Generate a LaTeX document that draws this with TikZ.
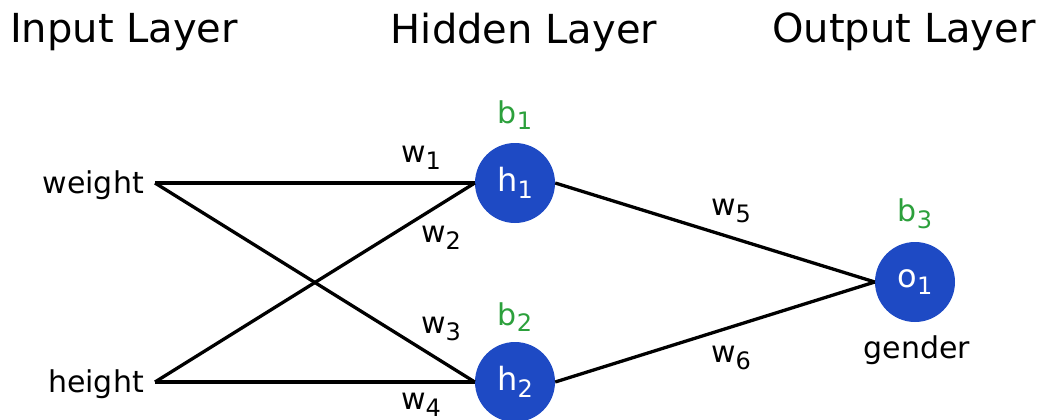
\documentclass[tikz,border=0pt]{standalone}
\usepackage{fontspec}
\setmainfont{DejaVu Sans}
\definecolor{nodeblue}{RGB}{30,74,196}
\definecolor{biasgreen}{RGB}{44,160,60}
\newcommand{\sbs}[1]{\raisebox{-0.4ex}{\fontsize{24}{24}\selectfont #1}}
\begin{document}
\begin{tikzpicture}[x=1pt,y=-1pt,
  neuron/.style={circle,fill=nodeblue,minimum size=80pt,inner sep=0pt,text=white,font=\fontsize{32}{32}\selectfont},
  title/.style={font=\fontsize{40}{40}\selectfont,inner sep=0pt},
  lbl/.style={font=\fontsize{30}{30}\selectfont,inner sep=0pt},
  bias/.style={font=\fontsize{30}{30}\selectfont,inner sep=0pt,text=biasgreen},
  conn/.style={line width=3.3pt}]
\useasboundingbox (0,0) rectangle (1044,420);
\node[title] (tin) at (124,32) {Input Layer};
\node[title] (thid) at (524,32) {Hidden Layer};
\node[title] (tout) at (904,32) {Output Layer};
\node[lbl,anchor=east] (x1) at (144,185) {weight};
\node[lbl,anchor=east] (x2) at (144,384) {height};
\coordinate (x1e) at (155,183);
\coordinate (x2e) at (155,382);
\node[neuron] (h1) at (515,183) {h\sbs{1}};
\node[neuron] (h2) at (515,382) {h\sbs{2}};
\node[neuron] (o1) at (915,282) {o\sbs{1}};
\node[bias] (b1) at (515,115) {b\sbs{1}};
\node[bias] (b2) at (515,317) {b\sbs{2}};
\node[bias] (b3) at (915,214) {b\sbs{3}};
\node[lbl] (gender) at (917,350) {gender};
\draw[conn] (x1e) -- (h1.west);
\draw[conn] (x1e) -- (h2.west);
\draw[conn] (x2e) -- (h1.west);
\draw[conn] (x2e) -- (h2.west);
\draw[conn] (h1.east) -- (o1.west);
\draw[conn] (h2.east) -- (o1.west);
\node[lbl] (w1) at (421,158) {w\sbs{1}};
\node[lbl] (w2) at (441,238) {w\sbs{2}};
\node[lbl] (w3) at (441,329) {w\sbs{3}};
\node[lbl] (w4) at (421,405) {w\sbs{4}};
\node[lbl] (w5) at (731,211) {w\sbs{5}};
\node[lbl] (w6) at (731,358) {w\sbs{6}};
\end{tikzpicture}
\end{document}
